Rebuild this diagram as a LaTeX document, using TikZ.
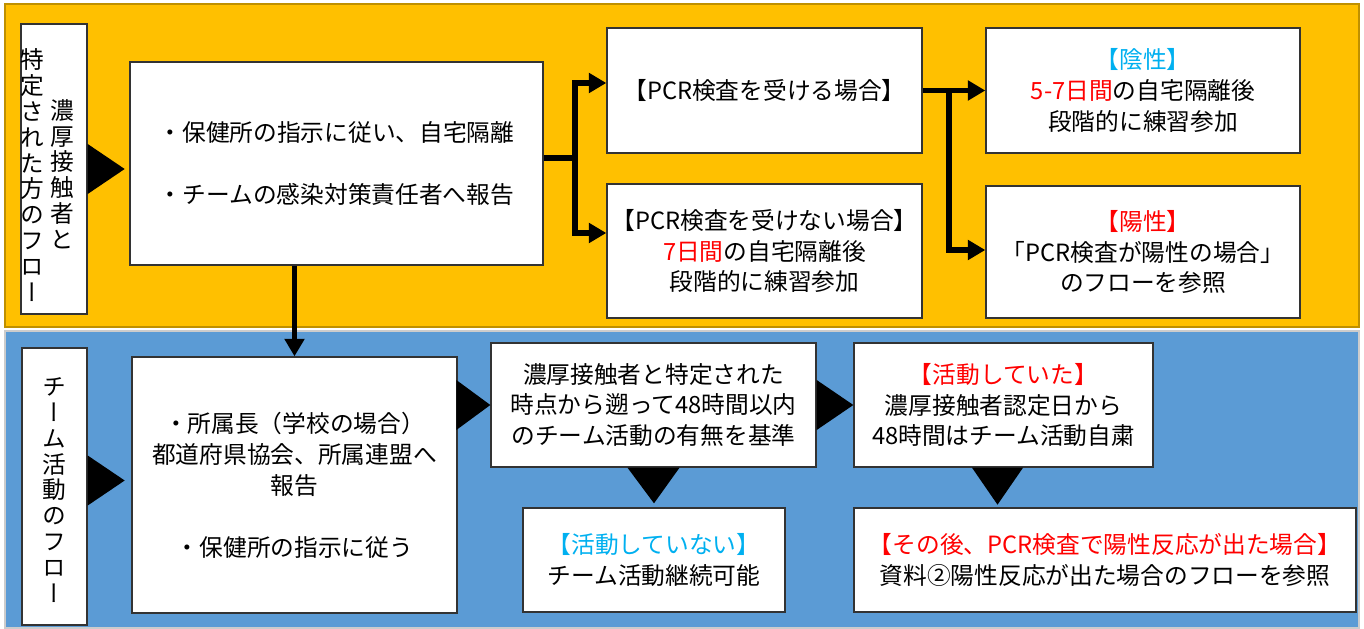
\documentclass[tikz,border=0pt]{standalone}
\usepackage{fontspec}
\setmainfont{Noto Sans CJK JP}
\newfontfamily\tatefont{Noto Sans CJK JP}[RawFeature=+vert]
\usepackage{tikz}
\usetikzlibrary{arrows.meta}
\usetikzlibrary{calc}
\definecolor{panelorange}{HTML}{FFC000}
\definecolor{paneledge}{HTML}{BF9000}
\definecolor{panelblue}{HTML}{5B9BD5}
\definecolor{negcyan}{HTML}{00B0F0}
\tikzstyle{box}=[draw=black!80, fill=white, line width=0.8pt, align=center, inner sep=0pt, font=\fontsize{13.5}{17.6}\selectfont]
\tikzstyle{tate}=[align=center, inner sep=0pt, font=\tatefont\fontsize{13.5}{14.7}\selectfont]
\tikzstyle{flow}=[line width=3.4pt, -{Triangle[length=10pt,width=11pt]}]
\tikzstyle{link}=[line width=3.4pt]
\tikzstyle{wedge}=[fill=black]

\begin{document}
\begin{tikzpicture}[x=0.02cm, y=-0.02cm]
      \useasboundingbox (0,0) rectangle (1364,628);

      \filldraw[fill=panelorange, draw=paneledge, line width=0.6pt] (5,4) rectangle (1359,327);
      \filldraw[fill=panelblue, draw=black!20, line width=0.6pt] (5,331) rectangle (1359,628);

      \node[box, minimum width=1.32cm, minimum height=5.8cm] (tlabel) at (54,169) {};
      \node[tate] (tcola) at (62,174) {濃\\厚\\接\\触\\者\\と};
      \node[tate] (tcolb) at (32,175) {特\\定\\さ\\れ\\た\\方\\の\\フ\\ロ\\ー};
      \node[box, minimum width=8.26cm, minimum height=4.06cm] (home) at (336.5,163.5) {・保健所の指示に従い、自宅隔離\\[17.6pt]・チームの感染対策責任者へ報告};
      \node[box, minimum width=6.3cm, minimum height=2.5cm] (pcr) at (764.5,90.5) {【PCR検査を受ける場合】};
      \node[box, minimum width=6.3cm, minimum height=2.68cm] (nopcr) at (764.5,251) {【PCR検査を受けない場合】\\\textcolor{red}{7日間}の自宅隔離後\\段階的に練習参加};
      \node[box, minimum width=6.28cm, minimum height=2.5cm] (neg) at (1143,90.5) {\textcolor{negcyan}{【陰性】}\\\textcolor{red}{5-7日間}の自宅隔離後\\段階的に練習参加};
      \node[box, minimum width=6.28cm, minimum height=2.64cm] (pos) at (1143,252) {\textcolor{red}{【陽性】}\\「PCR検査が陽性の場合」\\のフローを参照};

      \node[box, minimum width=1.3cm, minimum height=5.54cm] (blabel) at (54.5,486.5) {};
      \node[tate] (bcol) at (54.5,490) {チ\\ー\\ム\\活\\動\\の\\フ\\ロ\\ー};
      \node[box, minimum width=6.5cm, minimum height=5.12cm] (bmain) at (294.5,485) {・所属長（学校の場合）\\都道府県協会、所属連盟へ\\報告\\[17.6pt]・保健所の指示に従う};
      \node[box, minimum width=6.5cm, minimum height=2.48cm] (crit) at (653.5,405) {濃厚接触者と特定された\\時点から遡って48時間以内\\のチーム活動の有無を基準};
      \node[box, minimum width=5.98cm, minimum height=2.48cm] (act) at (1003.5,405) {\textcolor{red}{【活動していた】}\\濃厚接触者認定日から\\48時間はチーム活動自粛};
      \node[box, minimum width=5.24cm, minimum height=2.08cm] (noact) at (654,560) {\textcolor{negcyan}{【活動していない】}\\チーム活動継続可能};
      \node[box, minimum width=10.04cm, minimum height=2.08cm] (after) at (1105,560) {\textcolor{red}{【その後、PCR検査で陽性反応が出た場合】}\\資料②陽性反応が出た場合のフローを参照};

      \coordinate (j1) at (575,158);
      \coordinate (j2) at (949,90.5);

      \draw[link] (home.east |- j1) -- (j1);
      \draw[flow] (j1) |- (pcr.west |- 0,83);
      \draw[flow] (j1) |- (nopcr.west |- 0,233);
      \draw[flow] (pcr.east) -- (neg.west);
      \draw[flow] (j2) |- (pos.west |- 0,250);
      \draw[flow] (home.south -| bmain.north) -- (bmain.north);

      \fill[wedge] ($(tlabel.east)+(0,-25)$) -- ($(tlabel.east)+(0,25)$) -- ($(tlabel.east)+(37,0)$) -- cycle;
      \fill[wedge] ($(blabel.east)+(0,-31)$) -- ($(blabel.east)+(0,19)$) -- ($(blabel.east)+(37,-6)$) -- cycle;
      \fill[wedge] ($(crit.west)+(-34,-25)$) -- ($(crit.west)+(-34,25)$) -- (crit.west) -- cycle;
      \fill[wedge] ($(crit.east)+(0,-25)$) -- ($(crit.east)+(0,25)$) -- (act.west) -- cycle;
      \fill[wedge] ($(crit.south)+(-26,0)$) -- ($(crit.south)+(26,0)$) -- ($(noact.north)+(0,-4)$) -- cycle;
      \fill[wedge] ($(act.south)+(-31.5,0)$) -- ($(act.south)+(19.5,0)$) -- ($(act.south)+(-6,37)$) -- cycle;

    \end{tikzpicture}
\end{document}
